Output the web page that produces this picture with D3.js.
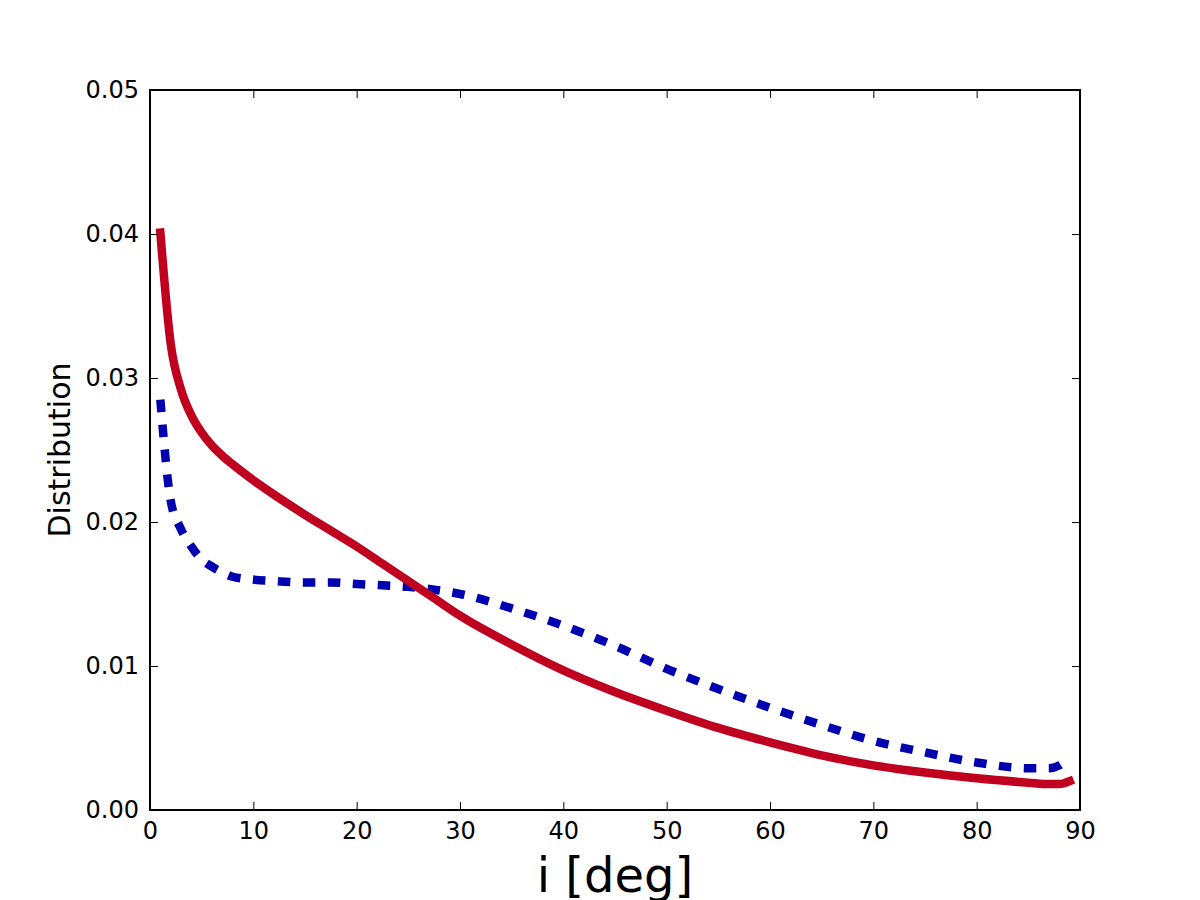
<!DOCTYPE html>
<html>
<head>
<meta charset="utf-8">
<script src="https://cdn.jsdelivr.net/npm/d3@7"></script>
<style>
  body { margin: 0; background: #fff; }
  svg { font-family: "DejaVu Sans", sans-serif; }
</style>
</head>
<body>
<svg id="chart" width="1200" height="900"></svg>
<script>
// inclination values (deg)
var angles = [1, 2, 3, 4, 5, 6, 7, 8, 10, 12, 15, 17.5, 20, 22.5, 25, 27.5, 30, 35, 40, 45, 50, 55, 60, 65, 70, 75, 80, 85, 87, 88, 89]

// red solid curve
var redValues = [0.0401, 0.0324, 0.0292, 0.0274, 0.0262, 0.0253, 0.0246, 0.0240, 0.0229, 0.0219, 0.0205, 0.0194, 0.0183, 0.0171, 0.0159, 0.0147, 0.0135, 0.0115, 0.0097, 0.0082, 0.0069, 0.0057, 0.0047, 0.0038, 0.0031, 0.0026, 0.0022, 0.0019, 0.0018, 0.0018, 0.0020]

// blue dashed curve
var blueValues = [0.0285, 0.0215, 0.0195, 0.0183, 0.0174, 0.0169, 0.0165, 0.0162, 0.0160, 0.0159, 0.0158, 0.0158, 0.0157, 0.0156, 0.0155, 0.0153, 0.0150, 0.0140, 0.0128, 0.0114, 0.0098, 0.0084, 0.0071, 0.0059, 0.0048, 0.0040, 0.0033, 0.0029, 0.0029, 0.0031, 0.0037]

var xTicks = [0, 10, 20, 30, 40, 50, 60, 70, 80, 90]
var yTicks = [0.00, 0.01, 0.02, 0.03, 0.04, 0.05]

var margin = { top: 90, left: 150, right: 120, bottom: 90 }
var width = 1200 - margin.left - margin.right
var height = 900 - margin.top - margin.bottom

var svg = d3.select('#chart')
var g = svg.append('g')
  .attr('transform', 'translate(' + margin.left + ',' + margin.top + ')')

var xPositionScale = d3.scaleLinear().domain([0, 90]).range([0, width])
var yPositionScale = d3.scaleLinear().domain([0, 0.05]).range([height, 0])

g.append('clipPath').attr('id', 'clip')
  .append('rect').attr('width', width).attr('height', height)

var line = d3.line()
  .x(function(d) { return xPositionScale(d[0]) })
  .y(function(d) { return yPositionScale(d[1]) })
  .curve(d3.curveMonotoneX)

var red = angles.map(function(a, i) { return [a, redValues[i]] })
var blue = angles.map(function(a, i) { return [a, blueValues[i]] })

var plot = g.append('g').attr('clip-path', 'url(#clip)')

plot.append('path')
  .datum(blue)
  .attr('d', line)
  .attr('fill', 'none')
  .attr('stroke', '#0000b0')
  .attr('stroke-width', 8.5)
  .attr('stroke-dasharray', '12.5,12.5')
  .attr('stroke-linejoin', 'round')

plot.append('path')
  .datum(red)
  .attr('d', line)
  .attr('fill', 'none')
  .attr('stroke', '#bf001f')
  .attr('stroke-width', 8.5)
  .attr('stroke-linejoin', 'round')
  .attr('stroke-linecap', 'square')

// axes, matplotlib style ticks pointing inwards on all sides
var fmtY = d3.format('.2f')
var xBottom = d3.axisBottom(xPositionScale).tickValues(xTicks).tickSizeInner(-8).tickSizeOuter(0).tickPadding(12)
var xTop = d3.axisTop(xPositionScale).tickValues(xTicks).tickSizeInner(-8).tickSizeOuter(0).tickFormat('')
var yLeft = d3.axisLeft(yPositionScale).tickValues(yTicks).tickSizeInner(-8).tickSizeOuter(0).tickPadding(11).tickFormat(fmtY)
var yRight = d3.axisRight(yPositionScale).tickValues(yTicks).tickSizeInner(-8).tickSizeOuter(0).tickFormat('')

g.append('g').attr('class', 'axis x-axis').attr('transform', 'translate(0,' + height + ')').call(xBottom)
g.append('g').attr('class', 'axis x-top').call(xTop)
g.append('g').attr('class', 'axis y-axis').call(yLeft)
g.append('g').attr('class', 'axis y-right').attr('transform', 'translate(' + width + ',0)').call(yRight)

g.selectAll('.axis .domain').remove()
g.selectAll('.axis .tick line').attr('stroke', '#000').attr('stroke-width', 1)
g.selectAll('.axis text')
  .attr('fill', '#000')
  .style('font-size', '24px')
  .style('font-family', '"DejaVu Sans", sans-serif')

g.append('rect')
  .attr('width', width)
  .attr('height', height)
  .attr('fill', 'none')
  .attr('stroke', '#000')
  .attr('stroke-width', 2)

svg.append('text')
  .attr('x', margin.left + width / 2)
  .attr('y', 892)
  .attr('text-anchor', 'middle')
  .style('font-size', '48px')
  .text('i [deg]')

svg.append('text')
  .attr('transform', 'translate(70,' + (margin.top + height / 2) + ') rotate(-90)')
  .attr('text-anchor', 'middle')
  .style('font-size', '30px')
  .text('Distribution')
</script>
</body>
</html>
